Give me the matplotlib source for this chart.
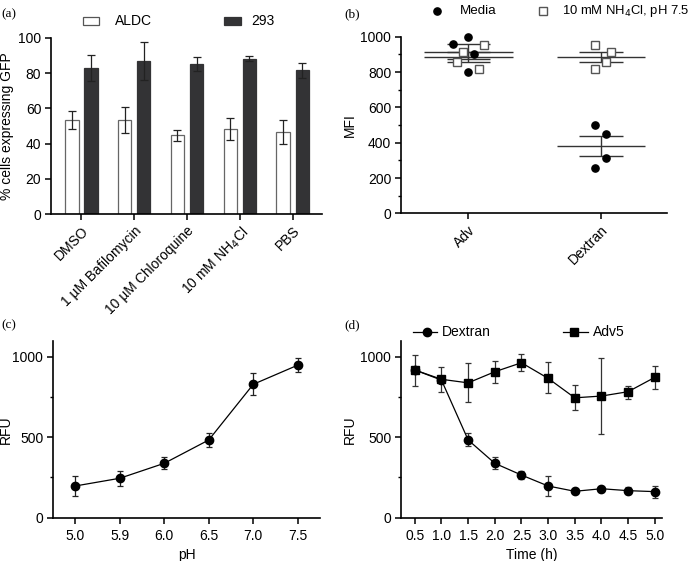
import numpy as np
import matplotlib
matplotlib.use('Agg')
import matplotlib.pyplot as plt
from matplotlib.ticker import MultipleLocator
from matplotlib.patches import Rectangle

plt.rcParams['font.family'] = ['Liberation Sans', 'DejaVu Sans']
plt.rcParams['font.size'] = 10
plt.rcParams['axes.linewidth'] = 1.2

# ── (a) % cells expressing GFP ────────────────────────────────────────────────
treatments = ['DMSO', '1 µM Bafilomycin', '10 µM Chloroquine',
              '10 mM NH$_4$Cl', 'PBS']
aldc_mean = [53.3, 53.3, 44.8, 48.2, 46.5]
aldc_err = [5.0, 7.3, 3.2, 6.2, 6.8]
h293_mean = [83.2, 86.8, 85.0, 88.1, 81.7]
h293_err = [7.4, 10.8, 4.0, 1.4, 4.3]

# ── (b) MFI scatter ───────────────────────────────────────────────────────────
groups_b = ['Adv', 'Dextran']
media_adv = [957, 1000, 900, 800]
media_adv_dx = [-0.12, 0.0, 0.04, 0.0]
nh4_adv = [915, 857, 815, 953]
nh4_adv_dx = [-0.045, -0.083, 0.076, 0.118]
media_dex = [500, 449, 311, 258]
media_dex_dx = [-0.043, 0.038, 0.038, -0.043]
nh4_dex = [953, 913, 857, 815]
nh4_dex_dx = [-0.043, 0.078, 0.038, -0.043]

# ── (c) RFU vs pH ─────────────────────────────────────────────────────────────
ph_labels = ['5.0', '5.9', '6.0', '6.5', '7.0', '7.5']
ph_rfu = [197, 245, 338, 483, 829, 948]
ph_lo = [135, 200, 300, 440, 760, 905]
ph_hi = [260, 290, 375, 525, 900, 990]

# ── (d) RFU vs time ───────────────────────────────────────────────────────────
time_h = [0.5, 1.0, 1.5, 2.0, 2.5, 3.0, 3.5, 4.0, 4.5, 5.0]
dex_rfu = [918, 855, 483, 338, 265, 197, 164, 180, 168, 162]
dex_lo = [918, 855, 445, 300, 240, 135, 155, 170, 145, 120]
dex_hi = [918, 855, 525, 375, 290, 260, 172, 190, 190, 200]
adv_rfu = [918, 860, 838, 907, 963, 866, 745, 756, 783, 872]
adv_lo = [820, 780, 718, 838, 910, 775, 670, 522, 740, 800]
adv_hi = [1010, 935, 962, 972, 1015, 965, 822, 990, 820, 943]

DARK = '#333335'
LINE = '#222222'
OPEN_EDGE = '#555555'

fig = plt.figure(figsize=(6.93, 5.61), dpi=100)
ax_a = fig.add_axes([0.0736, 0.6185, 0.391, 0.3138])
ax_b = fig.add_axes([0.5786, 0.6197, 0.3839, 0.3149])
ax_c = fig.add_axes([0.0765, 0.0772, 0.3853, 0.3155])
ax_d = fig.add_axes([0.5786, 0.0772, 0.3762, 0.3155])

for ax in (ax_a, ax_b, ax_c, ax_d):
    ax.spines['top'].set_visible(False)
    ax.spines['right'].set_visible(False)
    ax.tick_params(direction='out', length=4, width=1.1, pad=3)
    ax.tick_params(axis='x', pad=4)
    ax.tick_params(which='minor', length=2.5, width=1.0)

# Panel (a)
xa = np.arange(len(treatments))
off, w = 0.18, 0.26
ek = dict(ecolor=LINE, capsize=3, elinewidth=0.9, capthick=0.9)
ax_a.bar(xa - off, aldc_mean, w, color='white', edgecolor='#666666',
         linewidth=0.9, yerr=aldc_err, error_kw=ek)
ax_a.bar(xa + off, h293_mean, w, color=DARK, edgecolor=DARK,
         linewidth=0.9, yerr=h293_err, error_kw=ek)
ax_a.set_xlim(-0.57, 4.55)
ax_a.set_ylim(0, 100)
ax_a.set_yticks(range(0, 101, 20))
ax_a.set_xticks(xa)
ax_a.set_xticklabels(treatments, rotation=45, ha='right',
                     rotation_mode='anchor')
ax_a.tick_params(axis='x', pad=3)
ax_a.set_ylabel('% cells expressing GFP')
ax_a.yaxis.set_label_coords(-0.137, 0.5)
# legend drawn by hand to match spacing
ax_a.add_patch(Rectangle((0.118, 1.074), 0.059, 0.047, transform=ax_a.transAxes,
                         facecolor='white', edgecolor='#555555', lw=0.9, clip_on=False))
ax_a.text(0.236, 1.097, 'ALDC', transform=ax_a.transAxes, va='center', ha='left')
ax_a.add_patch(Rectangle((0.638, 1.074), 0.063, 0.047, transform=ax_a.transAxes,
                         facecolor=DARK, edgecolor=DARK, lw=0.9, clip_on=False))
ax_a.text(0.738, 1.097, '293', transform=ax_a.transAxes, va='center', ha='left')

# Panel (b)
mk_fill = dict(marker='o', color='black', ms=5.2, ls='none', clip_on=False, zorder=3)
mk_open = dict(marker='s', mfc='white', mec=OPEN_EDGE, mew=1.0, ms=5.5,
               ls='none', clip_on=False, zorder=3)
sets = [(0, media_adv, media_adv_dx, mk_fill),
        (0, nh4_adv, nh4_adv_dx, mk_open),
        (1, media_dex, media_dex_dx, mk_fill),
        (1, nh4_dex, nh4_dex_dx, mk_open)]
for xc, vals, dx, style in sets:
    vals = np.array(vals, dtype=float)
    ax_b.plot(xc + np.array(dx), vals, **style)
    m = vals.mean()
    sem = vals.std(ddof=1) / np.sqrt(len(vals))
    ax_b.hlines(m, xc - 0.333, xc + 0.333, color='#333333', lw=1.0, zorder=2)
    ax_b.hlines([m - sem, m + sem], xc - 0.166, xc + 0.166,
                color='#333333', lw=1.0, zorder=2)
    ax_b.vlines(xc, m - sem, m + sem, color='#333333', lw=1.0, zorder=2)
ax_b.set_xlim(-0.51, 1.5)
ax_b.set_ylim(0, 1000)
ax_b.set_yticks(range(0, 1001, 200))
ax_b.yaxis.set_minor_locator(MultipleLocator(100))
ax_b.set_xticks([0, 1])
ax_b.set_xticklabels(groups_b, rotation=45, ha='right', rotation_mode='anchor')
ax_b.tick_params(axis='x', pad=3)
ax_b.set_ylabel('MFI')
ax_b.yaxis.set_label_coords(-0.165, 0.5)
ax_b.plot([0.135], [1.146], transform=ax_b.transAxes, **mk_fill)
ax_b.text(0.221, 1.146, 'Media', transform=ax_b.transAxes, va='center', ha='left',
          fontsize=9.6)
ax_b.plot([0.534], [1.146], transform=ax_b.transAxes, **mk_open)
ax_b.text(0.605, 1.146, '10 mM NH$_4$Cl, pH 7.5', transform=ax_b.transAxes,
          va='center', ha='left', fontsize=9.4)

# Panel (c)
xc_ = np.arange(len(ph_labels))
ph_rfu = np.array(ph_rfu)
ax_c.errorbar(xc_, ph_rfu, yerr=[ph_rfu - np.array(ph_lo), np.array(ph_hi) - ph_rfu],
              color='black', lw=0.9, marker='o', ms=6, ecolor=LINE,
              elinewidth=0.9, capsize=2.5, capthick=0.9)
ax_c.set_xlim(-0.5, 5.5)
ax_c.set_ylim(0, 1100)
ax_c.set_yticks([0, 500, 1000])
ax_c.yaxis.set_minor_locator(MultipleLocator(250))
ax_c.set_xticks(xc_)
ax_c.set_xticklabels(ph_labels)
ax_c.set_xlabel('pH', labelpad=4)
ax_c.set_ylabel('RFU')
ax_c.yaxis.set_label_coords(-0.15, 0.5)

# Panel (d)
dex_rfu = np.array(dex_rfu)
adv_rfu = np.array(adv_rfu)
ax_d.errorbar(time_h, adv_rfu, yerr=[adv_rfu - np.array(adv_lo), np.array(adv_hi) - adv_rfu],
              color='black', lw=0.9, marker='s', ms=6, ecolor='#333333',
              elinewidth=0.9, capsize=2.5, capthick=0.9)
ax_d.errorbar(time_h, dex_rfu, yerr=[dex_rfu - np.array(dex_lo), np.array(dex_hi) - dex_rfu],
              color='black', lw=0.9, marker='o', ms=6, ecolor='#333333',
              elinewidth=0.9, capsize=2.5, capthick=0.9)
ax_d.set_xlim(0.24, 5.13)
ax_d.set_ylim(0, 1100)
ax_d.set_yticks([0, 500, 1000])
ax_d.yaxis.set_minor_locator(MultipleLocator(250))
ax_d.set_xticks(time_h)
ax_d.set_xticklabels([f'{t:.1f}' for t in time_h])
ax_d.set_xlabel('Time (h)', labelpad=4)
ax_d.set_ylabel('RFU')
ax_d.yaxis.set_label_coords(-0.169, 0.5)
for (x0, x1, xm, xt, mk, lab) in [(0.046, 0.138, 0.10, 0.157, 'o', 'Dextran'),
                                  (0.621, 0.717, 0.665, 0.736, 's', 'Adv5')]:
    ax_d.plot([x0, x1], [1.051, 1.051], transform=ax_d.transAxes,
              color='black', lw=0.9, clip_on=False)
    ax_d.plot([xm], [1.051], transform=ax_d.transAxes, marker=mk, color='black',
              ms=6, clip_on=False)
    ax_d.text(xt, 1.051, lab, transform=ax_d.transAxes, va='center', ha='left')

# Panel letters
for x, y, lab in [(0.002, 0.985, '(a)'), (0.497, 0.985, '(b)'),
                  (0.002, 0.43, '(c)'), (0.497, 0.43, '(d)')]:
    fig.text(x, y, lab, ha='left', va='top', fontsize=9.5,
             family=['Liberation Serif', 'DejaVu Serif'])

fig.savefig('out.png', dpi=100, facecolor='white')
